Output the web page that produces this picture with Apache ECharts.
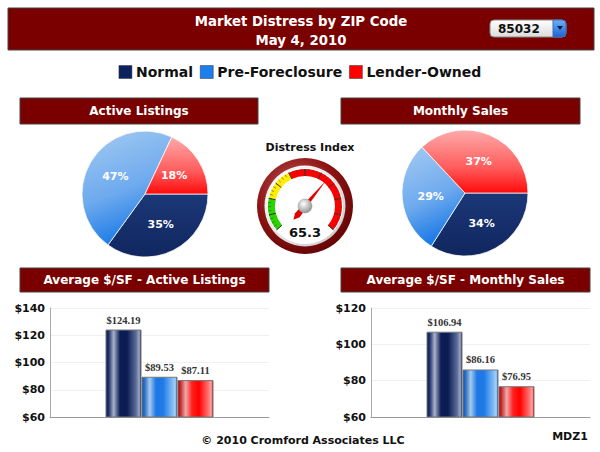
<!DOCTYPE html>
<html>
<head>
<meta charset="utf-8">
<script src="https://cdn.jsdelivr.net/npm/echarts@6/dist/echarts.min.js"></script>
<style>html,body{margin:0;padding:0;background:#fff}#c{width:600px;height:452px}</style>
</head>
<body>
<div id="c"></div>
<script>
const categories = ['Normal', 'Pre-Foreclosure', 'Lender-Owned'];
const activeListingsShare = [35, 47, 18];
const monthlySalesShare = [34, 29, 37];
const distressIndex = 65.3;
const activePpsf = [124.19, 89.53, 87.11];
const salesPpsf = [106.94, 86.16, 76.95];
const activeTicks = { min: 60, max: 140, interval: 20 };
const salesTicks = { min: 60, max: 120, interval: 20 };
const zipCode = '85032';
const titleText = 'Market Distress by ZIP Code';
const dateText = 'May 4, 2010';
const footerText = '\u00A9 2010 Cromford Associates LLC';
const codeText = 'MDZ1';

const FONT = 'DejaVu Sans, Verdana, sans-serif';
const legendColors = ['#0c2160', '#1a7eef', '#ff0000'];

const pieFill = [
  { type: 'linear', x: 0, y: 0, x2: 0, y2: 1, colorStops: [{ offset: 0, color: '#1c3878' }, { offset: 1, color: '#10265f' }] },
  { type: 'linear', x: 0, y: 0, x2: 0.3, y2: 1, colorStops: [{ offset: 0, color: '#a4cbf2' }, { offset: 0.6, color: '#6eaaee' }, { offset: 1, color: '#1d7be6' }] },
  { type: 'linear', x: 0, y: 0, x2: 0, y2: 1, colorStops: [{ offset: 0, color: '#ffaaaa' }, { offset: 0.6, color: '#ff5c5c' }, { offset: 1, color: '#ff0a0a' }] }
];

const barFill = [
  ['#081a50', '#22336a', '#aab2ca', '#0b1d54', '#0a1c52', '#5c6c9a', '#a0aac6', '#0a1c52'],
  ['#0a56b6', '#2e72c4', '#a8caee', '#1e78e6', '#1e7ae8', '#7cb8f4', '#aad0f8', '#1466cc'],
  ['#b00000', '#c83434', '#eeaaaa', '#ff2020', '#ff0000', '#ff7070', '#ffa4a4', '#d00000']
];
const barStops = [0, 0.08, 0.22, 0.4, 0.6, 0.86, 0.95, 1];
function barGrad(i) {
  return { type: 'linear', x: 0, y: 0, x2: 1, y2: 0,
    colorStops: barStops.map((o, k) => ({ offset: o, color: barFill[i][k] })) };
}

function pieSeries(center, values) {
  return {
    type: 'pie', center: center, radius: 63, startAngle: 0, clockwise: true,
    silent: true, animation: false,
    label: { show: true, position: 'inside', formatter: p => p.value + '%', color: '#fff', fontFamily: FONT, fontWeight: 'bold', fontSize: 11 },
    labelLine: { show: false },
    itemStyle: { borderColor: 'rgba(255,255,255,0.75)', borderWidth: 1 },
    emphasis: { disabled: true },
    data: categories.map((n, i) => ({ name: n, value: values[i], itemStyle: { color: pieFill[i] } }))
  };
}

const barSeries = [];
[activePpsf, salesPpsf].forEach((vals, g) => {
  categories.forEach((n, i) => {
    barSeries.push({
      type: 'bar', name: n, xAxisIndex: g, yAxisIndex: g, barWidth: 36, barGap: '0%',
      animation: false, silent: true,
      itemStyle: { color: barGrad(i), borderColor: '#777', borderWidth: 1 },
      label: { show: true, position: 'top', distance: 4, formatter: p => '$' + p.value.toFixed(2),
        fontFamily: 'Liberation Serif, Times New Roman, serif', fontWeight: 'bold', fontSize: 10.5, color: '#333' },
      data: [vals[i]]
    });
  });
});

function yAxis(t) {
  return {
    type: 'value', min: t.min, max: t.max, interval: t.interval,
    axisLine: { show: true, lineStyle: { color: '#aaa' } },
    axisTick: { show: false },
    axisLabel: { formatter: v => '$' + v, fontFamily: FONT, fontWeight: 'bold', fontSize: 11, color: '#111', margin: 5 },
    splitLine: { lineStyle: { color: '#f0f0f0' } }
  };
}
function xAxis(g) {
  return { type: 'category', gridIndex: g, data: [''], axisLine: { lineStyle: { color: '#999' } }, axisTick: { show: false }, axisLabel: { show: false } };
}

function header(x, y, w, h, text) {
  return [
    { type: 'rect', shape: { x: x, y: y, width: w, height: h }, style: { fill: '#7a0000', stroke: '#444', lineWidth: 1 } },
    { type: 'text', x: x + w / 2, y: y + h / 2, style: { text: text, fill: '#fff', font: 'bold 12px ' + FONT, align: 'center', verticalAlign: 'middle' } }
  ];
}

const gx = 305, gy = 206;
const graphics = [
  { type: 'rect', shape: { x: 8, y: 8, width: 586, height: 42 }, style: { fill: '#7a0000', stroke: '#444', lineWidth: 1 } },
  { type: 'text', x: 301, y: 21, style: { text: titleText, fill: '#fff', font: 'bold 13.3px ' + FONT, align: 'center', verticalAlign: 'middle' } },
  { type: 'text', x: 301, y: 40, style: { text: dateText, fill: '#fff', font: 'bold 13.3px ' + FONT, align: 'center', verticalAlign: 'middle' } },
  { type: 'rect', shape: { x: 490, y: 20, width: 76, height: 17, r: 4 }, style: { fill: { type: 'linear', x: 0, y: 0, x2: 0, y2: 1, colorStops: [{ offset: 0, color: '#ffffff' }, { offset: 1, color: '#dcdcdc' }] }, stroke: '#888', lineWidth: 1 } },
  { type: 'rect', shape: { x: 553, y: 20, width: 13, height: 17, r: [0, 4, 4, 0] }, style: { fill: { type: 'linear', x: 0, y: 0, x2: 0, y2: 1, colorStops: [{ offset: 0, color: '#6fb0f6' }, { offset: 1, color: '#1a62d4' }] }, stroke: '#3a6fb8', lineWidth: 1 } },
  { type: 'polygon', shape: { points: [[557, 26], [563, 26], [560, 30]] }, style: { fill: '#0a1a40' } },
  { type: 'text', x: 498, y: 29, style: { text: zipCode, fill: '#111', font: 'bold 12px ' + FONT, align: 'left', verticalAlign: 'middle' } },
  ...header(20, 98, 238, 26, 'Active Listings'),
  ...header(341, 98, 239, 26, 'Monthly Sales'),
  ...header(20, 268, 249, 24, 'Average $/SF - Active Listings'),
  ...header(341, 268, 249, 24, 'Average $/SF - Monthly Sales'),
  { type: 'circle', shape: { cx: gx, cy: gy, r: 48 }, style: { fill: { type: 'radial', x: 0.4, y: 0.35, r: 0.75, colorStops: [{ offset: 0, color: '#c06060' }, { offset: 0.55, color: '#8e1414' }, { offset: 1, color: '#5a0000' }] } } },
  { type: 'circle', shape: { cx: gx, cy: gy, r: 40.5 }, style: { fill: { type: 'linear', x: 0, y: 0, x2: 1, y2: 1, colorStops: [{ offset: 0, color: '#ffffff' }, { offset: 1, color: '#c8c8c8' }] } } },
  { type: 'circle', shape: { cx: gx, cy: gy, r: 38 }, style: { fill: '#fff' } },
  { type: 'text', x: 303, y: 440, style: { text: footerText, fill: '#111', font: 'bold 11px ' + FONT, align: 'center', verticalAlign: 'middle' } },
  { type: 'text', x: 570, y: 436, style: { text: codeText, fill: '#111', font: 'bold 11px ' + FONT, align: 'center', verticalAlign: 'middle' } }
];

const option = {
  backgroundColor: '#fff',
  animation: false,
  title: { text: 'Distress Index', left: gx, top: 137, textAlign: 'center', textStyle: { fontFamily: FONT, fontWeight: 'bold', fontSize: 11, color: '#111' } },
  legend: {
    top: 60, left: 'center', icon: 'rect', itemWidth: 13, itemHeight: 13, itemGap: 7, selectedMode: false,
    textStyle: { fontFamily: FONT, fontWeight: 'bold', fontSize: 14, color: '#111', padding: [0, 0, 0, -1] },
    data: categories.map((n, i) => ({ name: n, itemStyle: { color: legendColors[i], borderColor: '#333', borderWidth: 0.5 } }))
  },
  graphic: graphics,
  grid: [
    { left: 50, right: 331, top: 308, bottom: 35 },
    { left: 371, right: 10, top: 308, bottom: 35 }
  ],
  xAxis: [xAxis(0), xAxis(1)],
  yAxis: [Object.assign({ gridIndex: 0 }, yAxis(activeTicks)), Object.assign({ gridIndex: 1 }, yAxis(salesTicks))],
  series: [
    pieSeries([145, 194], activeListingsShare),
    pieSeries([465, 193], monthlySalesShare),
    {
      type: 'gauge', center: [gx, gy], radius: 37, startAngle: 220, endAngle: -40, min: 0, max: 100,
      splitNumber: 10, silent: true, animation: false,
      axisLine: { lineStyle: { width: 7, color: [[0.2, '#2ad400'], [0.4, '#ffee00'], [1, '#ff0000']] } },
      splitLine: { distance: -7, length: 7, lineStyle: { color: '#333', width: 1 } },
      axisTick: { distance: -7, length: 3, splitNumber: 4, lineStyle: { color: '#444', width: 0.6 } },
      axisLabel: { show: false },
      pointer: { length: 45, width: 3, offsetCenter: [0, 12], itemStyle: { color: '#e00000' } },
      anchor: { show: true, showAbove: true, size: 14, itemStyle: { color: { type: 'radial', x: 0.4, y: 0.35, r: 0.7, colorStops: [{ offset: 0, color: '#ffffff' }, { offset: 1, color: '#8c8c8c' }] }, borderColor: '#999', borderWidth: 0.5 } },
      title: { show: false },
      detail: { offsetCenter: [0, 26], formatter: v => v.toFixed(1), fontFamily: FONT, fontWeight: 'bold', fontSize: 13, color: '#111' },
      data: [{ value: distressIndex, name: 'Distress Index' }]
    },
    ...barSeries
  ]
};

const chart = echarts.init(document.getElementById('c'), null, { renderer: 'svg', width: 600, height: 452 });
chart.setOption(option);
</script>
</body>
</html>
